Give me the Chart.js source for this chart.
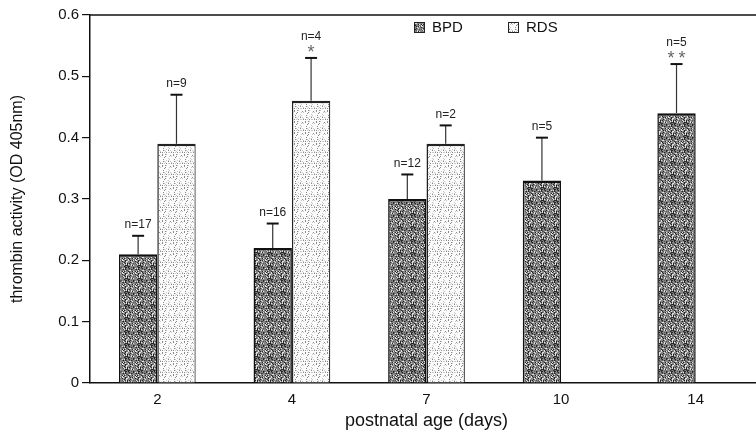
<!DOCTYPE html>
<html><head><meta charset="utf-8">
<script src="https://cdn.jsdelivr.net/npm/chart.js@4/dist/chart.umd.min.js"></script>
<style>html,body{margin:0;padding:0;background:#fff;overflow:hidden;width:756px;height:435px}</style>
</head><body>
<canvas id="c" width="766" height="435" style="width:766px;height:435px;display:block"></canvas>
<script>
const categories = ['2', '4', '7', '10', '14'];
const bpdValues = [0.21, 0.22, 0.30, 0.33, 0.44];
const rdsValues = [0.39, 0.46, 0.39, null, null];
const bpdErrTop = [0.24, 0.26, 0.34, 0.40, 0.52];
const rdsErrTop = [0.47, 0.53, 0.42, null, null];
const bpdNotes = ['n=17', 'n=16', 'n=12', 'n=5', 'n=5'];
const rdsNotes = ['n=9', 'n=4', 'n=2', null, null];
const bpdStars = ['', '', '', '', '**'];
const rdsStars = ['', '*', '', '', ''];
const seriesNames = ['BPD', 'RDS'];
const FONT = '"Liberation Sans", Arial, sans-serif';

function makePattern(base, size, rules) {
  const pc = document.createElement('canvas');
  pc.width = size; pc.height = size;
  const g = pc.getContext('2d');
  g.fillStyle = base; g.fillRect(0, 0, size, size);
  for (let x = 0; x < size; x++) {
    for (let y = 0; y < size; y++) {
      const h = (x * 37 + y * 91 + x * y * 13 + ((x * x + 3 * y * y) % 7)) % 11;
      const col = rules(h);
      if (col) { g.fillStyle = col; g.fillRect(x, y, 1, 1); }
    }
  }
  return g.createPattern(pc, 'repeat');
}
const darkPat = makePattern('#858585', 13, h => h < 2 ? '#262626' : (h < 4 ? '#e0e0e0' : (h === 7 ? '#555' : null)));
const lightPat = makePattern('#fbfbfb', 11, h => h === 0 ? '#8a8a8a' : (h === 5 ? '#c8c8c8' : null));

const annot = {
  id: 'annot',
  afterDatasetsDraw(chart) {
    const ctx = chart.ctx;
    const ys = chart.scales.y;
    const ca = chart.chartArea;
    const errs = [bpdErrTop, rdsErrTop];
    const notes = [bpdNotes, rdsNotes];
    const stars = [bpdStars, rdsStars];
    ctx.save();
    ctx.strokeStyle = '#111'; ctx.lineWidth = 1.5;
    ctx.beginPath(); ctx.moveTo(ca.left, ca.top); ctx.lineTo(ca.right, ca.top); ctx.stroke();
    for (let d = 0; d < 2; d++) {
      const meta = chart.getDatasetMeta(d);
      meta.data.forEach((bar, j) => {
        const e = errs[d][j];
        if (e == null || chart.data.datasets[d].data[j] == null) return;
        const x = bar.x;
        const yt = ys.getPixelForValue(e);
        ctx.strokeStyle = '#333'; ctx.lineWidth = 1.2;
        ctx.beginPath(); ctx.moveTo(x, bar.y); ctx.lineTo(x, yt); ctx.stroke();
        ctx.strokeStyle = '#111'; ctx.lineWidth = 2;
        ctx.beginPath(); ctx.moveTo(x - 6, yt); ctx.lineTo(x + 6, yt); ctx.stroke();
        ctx.textAlign = 'center'; ctx.textBaseline = 'middle';
        const s = stars[d][j];
        let ny = yt - 11;
        if (s) {
          ctx.font = '18px ' + FONT;
          ctx.fillStyle = '#666';
          const n = s.length, gap = 11;
          for (let k = 0; k < n; k++) {
            ctx.fillText('*', x + (k - (n - 1) / 2) * gap, yt - 5);
          }
          ny = yt - 21;
        }
        if (notes[d][j]) {
          ctx.fillStyle = '#222';
          ctx.font = '12px ' + FONT;
          ctx.fillText(notes[d][j], x, ny);
        }
      });
    }
    const items = [{x: 414, pat: darkPat}, {x: 508, pat: lightPat}];
    items.forEach((it, i) => {
      ctx.fillStyle = it.pat; ctx.fillRect(it.x, 22, 11, 11);
      ctx.strokeStyle = '#222'; ctx.lineWidth = 1;
      ctx.strokeRect(it.x + 0.5, 22.5, 10, 10);
      ctx.fillStyle = '#111';
      ctx.font = '15px ' + FONT;
      ctx.textAlign = 'left'; ctx.textBaseline = 'middle';
      ctx.fillText(seriesNames[i], it.x + 18, 28);
    });
    ctx.restore();
  }
};

new Chart(document.getElementById('c'), {
  type: 'bar',
  data: {
    labels: categories,
    datasets: [
      {label: seriesNames[0], data: bpdValues, backgroundColor: darkPat, borderColor: '#111',
       borderWidth: {top: 2.5, left: 1.5, right: 1.5, bottom: 0}, barPercentage: 1, categoryPercentage: 0.57},
      {label: seriesNames[1], data: rdsValues, backgroundColor: lightPat, borderColor: '#222',
       borderWidth: {top: 2.5, left: 1.5, right: 1.2, bottom: 0}, barPercentage: 1, categoryPercentage: 0.57}
    ]
  },
  options: {
    responsive: false,
    animation: false,
    devicePixelRatio: 1,
    layout: {padding: {top: 15, right: 3, left: 0, bottom: 0}},
    plugins: {legend: {display: false}, tooltip: {enabled: false}},
    scales: {
      x: {
        grid: {display: false, drawTicks: false},
        border: {display: true, color: '#111', width: 1.5},
        ticks: {color: '#111', padding: 8, font: {size: 15, family: FONT}},
        title: {display: true, text: 'postnatal age (days)', color: '#111', padding: {top: 4, bottom: 3},
                font: {size: 18, family: FONT}},
        afterFit: s => { s.height = 52; }
      },
      y: {
        min: 0, max: 0.6,
        grid: {display: true, drawOnChartArea: false, drawTicks: true, tickLength: 8, color: '#111', lineWidth: 1.2},
        border: {display: true, color: '#111', width: 1.5},
        ticks: {stepSize: 0.1, color: '#111', padding: 3,
                font: {size: 15, family: FONT},
                callback: v => (Math.abs(v) < 1e-9 ? '0' : v.toFixed(1))},
        title: {display: true, text: 'thrombin activity (OD 405nm)', color: '#111', padding: {top: 8, bottom: 4},
                font: {size: 16, family: FONT}},
        afterFit: s => { s.width = 90; }
      }
    }
  },
  plugins: [annot]
});
</script>
</body></html>
